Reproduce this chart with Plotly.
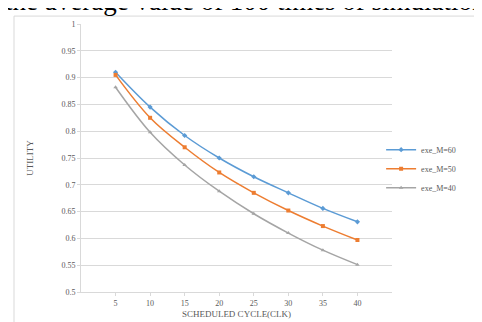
import plotly.graph_objects as go

cycles = [5, 10, 15, 20, 25, 30, 35, 40]
m60 = [0.910, 0.845, 0.792, 0.750, 0.715, 0.685, 0.656, 0.631]
m50 = [0.905, 0.825, 0.770, 0.723, 0.685, 0.652, 0.623, 0.597]
m40 = [0.882, 0.798, 0.737, 0.688, 0.646, 0.610, 0.578, 0.551]
names = ["exe_M=60", "exe_M=50", "exe_M=40"]
y_ticks = [0.5, 0.55, 0.6, 0.65, 0.7, 0.75, 0.8, 0.85, 0.9, 0.95, 1]
y_labels = ["0.5", "0.55", "0.6", "0.65", "0.7", "0.75", "0.8", "0.85", "0.9", "0.95", "1"]

serif = "Liberation Serif, Times New Roman, serif"
fig = go.Figure()
for vals, name, color, sym in [(m60, names[0], "#5B9BD5", "diamond"),
                               (m50, names[1], "#ED7D31", "square"),
                               (m40, names[2], "#A5A5A5", "triangle-up")]:
    fig.add_trace(go.Scatter(x=cycles, y=vals, name=name, mode="lines+markers",
                             line=dict(color=color, width=1.5, shape="spline"),
                             marker=dict(symbol=sym, size=4, color=color)))

fig.update_layout(
    width=482, height=322,
    margin=dict(l=73, r=98, t=15, b=36),
    paper_bgcolor="white", plot_bgcolor="white",
    font=dict(family=serif, size=8, color="#595959"),
    showlegend=True,
    legend=dict(x=0.965, y=0.46, xanchor="left", yanchor="middle",
                font=dict(size=8, color="#595959"), bgcolor="rgba(0,0,0,0)",
                itemwidth=30, tracegroupgap=0),
    xaxis=dict(range=[0, 45], tickvals=cycles, ticktext=[str(c) for c in cycles],
               showgrid=False, showline=True, linecolor="#D9D9D9", linewidth=1,
               ticks="outside", ticklen=3, tickcolor="#D9D9D9", zeroline=False,
               title=dict(text="SCHEDULED CYCLE(CLK)", font=dict(size=9, color="#595959"), standoff=4)),
    yaxis=dict(range=[0.5, 1], tickvals=y_ticks, ticktext=y_labels,
               showgrid=True, gridcolor="#D9D9D9", gridwidth=1,
               showline=True, linecolor="#D9D9D9", linewidth=1,
               ticks="outside", ticklen=3, tickcolor="#D9D9D9", zeroline=False,
               title=dict(text="UTILITY", font=dict(size=9, color="#595959"), standoff=26)),
)

fig.add_shape(type="rect", xref="paper", yref="paper",
              x0=(6 - 73) / 311, x1=(476 - 73) / 311,
              y0=(286 - 320) / 271, y1=(286 - 7) / 271,
              line=dict(color="#D9D9D9", width=1), fillcolor="rgba(0,0,0,0)", layer="below")

fig.add_annotation(text="the average value of 100 times of simulation", xref="paper", yref="paper",
                   x=(-5 - 73) / 311, y=(286 - 8.5) / 271, xanchor="left", yanchor="bottom",
                   showarrow=False, font=dict(family=serif, size=27, color="black"))

fig.write_html("out.html")
